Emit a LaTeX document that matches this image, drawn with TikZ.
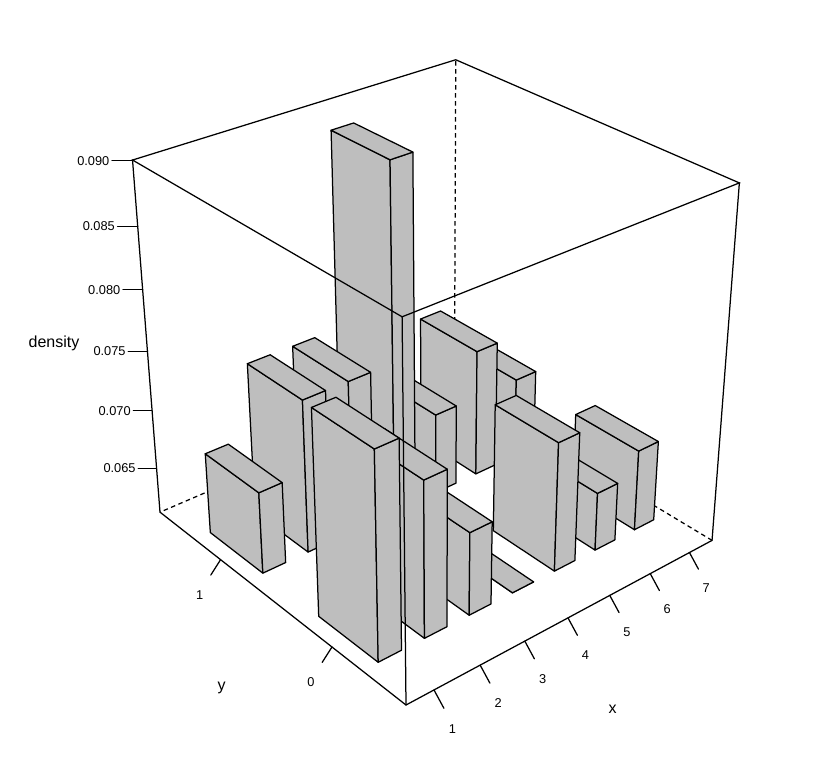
\documentclass[tikz,border=0pt]{standalone}
\usepackage{fontspec}
\setmainfont{Liberation Sans}
\definecolor{bargray}{RGB}{190,190,190}
% perspective projection of normalised box coordinates (u,v,w) to image pixels
\newcommand\mkpt[4]{%
  \pgfmathsetmacro\pW{1+0.12439*(#2)+0.1481*(#3)-0.1026*(#4)}%
  \pgfmathsetmacro\pX{(406+394.6*(#2)-222.3*(#3)-45.14*(#4))/\pW}%
  \pgfmathsetmacro\pY{(705-97.4*(#2)-117.0*(#3)-420.7*(#4))/\pW}%
  \coordinate (#1) at (\pX,\pY);}
% one 3d bar: name, x, y, normalised height
\newcommand\drawbar[4]{%
  \pgfmathsetmacro\ua{(#2-4.25)/7.18+0.5}%
  \pgfmathsetmacro\ub{(#2-3.75)/7.18+0.5}%
  \pgfmathsetmacro\va{(#3+0.35)/2.2}%
  \pgfmathsetmacro\vb{(#3+0.85)/2.2}%
  \mkpt{#1a}{\ua}{\va}{0}\mkpt{#1b}{\ub}{\va}{0}\mkpt{#1c}{\ua}{\vb}{0}%
  \mkpt{#1d}{\ua}{\va}{#4}\mkpt{#1e}{\ub}{\va}{#4}%
  \mkpt{#1f}{\ub}{\vb}{#4}\mkpt{#1g}{\ua}{\vb}{#4}%
  \filldraw[barface] (#1a) -- (#1c) -- (#1g) -- (#1d) -- cycle;
  \filldraw[barface] (#1a) -- (#1b) -- (#1e) -- (#1d) -- cycle;
  \filldraw[barface] (#1d) -- (#1e) -- (#1f) -- (#1g) -- cycle;}
\begin{document}
\begin{tikzpicture}[x=1pt,y=-1pt,
  barface/.style={fill=bargray,draw=black,line width=1.25pt,line join=round},
  boxline/.style={draw=black,line width=1.25pt,line cap=round},
  hidline/.style={draw=black,line width=1.25pt,dash pattern=on 4.5pt off 3.5pt},
  ticklab/.style={inner sep=0pt,font=\fontsize{12.8}{15}\selectfont},
  axlab/.style={inner sep=0pt,font=\fontsize{16}{19}\selectfont}]
\useasboundingbox (0,0) rectangle (816,764);
\fill[white] (0,0) rectangle (816,764);
% box corners
\mkpt{BN}{0}{0}{0}\mkpt{BR}{1}{0}{0}\mkpt{BL}{0}{1}{0}\mkpt{BF}{1}{1}{0}
\mkpt{TN}{0}{0}{1}\mkpt{TR}{1}{0}{1}\mkpt{TL}{0}{1}{1}\mkpt{TF}{1}{1}{1}
% hidden box edges
\draw[hidline] (BF) -- (BL);
\draw[hidline] (BF) -- (BR);
\draw[hidline] (BF) -- (TF);
% bars, back to front
\drawbar{bsa}{7}{1}{0.238}
\drawbar{bsb}{7}{0}{0.238}
\drawbar{bxa}{6}{1}{0.376}
\drawbar{bxb}{6}{0}{0.171}
\drawbar{bva}{5}{1}{0.239}
\drawbar{bvb}{5}{0}{0.376}
\drawbar{bqa}{4}{1}{1.0}
\drawbar{bqb}{4}{0}{0}
\drawbar{bta}{3}{1}{0.445}
\drawbar{btb}{3}{0}{0.240}
\drawbar{bda}{2}{1}{0.446}
\drawbar{bdb}{2}{0}{0.446}
\drawbar{boa}{1}{1}{0.238}
\drawbar{bob}{1}{0}{0.586}
% visible box edges
\draw[boxline] (TL) -- (TF) -- (TR) -- (TN) -- cycle;
\draw[boxline] (TL) -- (BL);
\draw[boxline] (TR) -- (BR);
\draw[boxline] (TN) -- (BN);
\draw[boxline] (BL) -- (BN) -- (BR);
% z axis ticks
\foreach \z [count=\k] in {0.065,0.070,0.075,0.080,0.085,0.090} {
  \pgfmathsetmacro\ww{(\z-0.06109)/0.028945}
  \mkpt{zt\k}{0}{1}{\ww}
  \pgfmathsetmacro\tl{18.3+(\ww-0.135)*2.66}
  \pgfmathsetmacro\tlb{\tl+2.5}
  \draw[boxline] (zt\k) -- ++(-\tl,0);
  \path (zt\k) ++(-\tlb,0) coordinate (ze\k);
  \node[ticklab,anchor=east] (zl\k) at (ze\k) {\z};
}
% x axis ticks
\foreach \i in {1,...,7} {
  \pgfmathsetmacro\uu{(\i-4)/7.18+0.5}
  \pgfmathsetmacro\Wx{1+0.12439*\uu}
  \mkpt{xt\i}{\uu}{0}{0}
  \pgfmathsetmacro\tx{10/\Wx}\pgfmathsetmacro\ty{18.5/\Wx}
  \pgfmathsetmacro\lx{18.6/\Wx}\pgfmathsetmacro\ly{39.4/\Wx}
  \draw[boxline] (xt\i) -- ++(\tx,\ty);
  \path (xt\i) ++(\lx,\ly) coordinate (xe\i);
  \node[ticklab] (xl\i) at (xe\i) {\i};
}
% y axis ticks
\foreach \j in {0,1} {
  \pgfmathsetmacro\vv{(\j+0.6)/2.2}
  \mkpt{yt\j}{0}{\vv}{0}
  \draw[boxline] (yt\j) -- ++(-9.8,15.4);
  \path (yt\j) ++(-21,35) coordinate (ye\j);
  \node[ticklab] (yl\j) at (ye\j) {\j};
}
% axis titles
\node[axlab] (xlab) at (612.7,709.3) {x};
\node[axlab] (ylab) at (221.7,688.3) {y};
\node[axlab] (zlab) at (54,343.5) {density};
\end{tikzpicture}
\end{document}
